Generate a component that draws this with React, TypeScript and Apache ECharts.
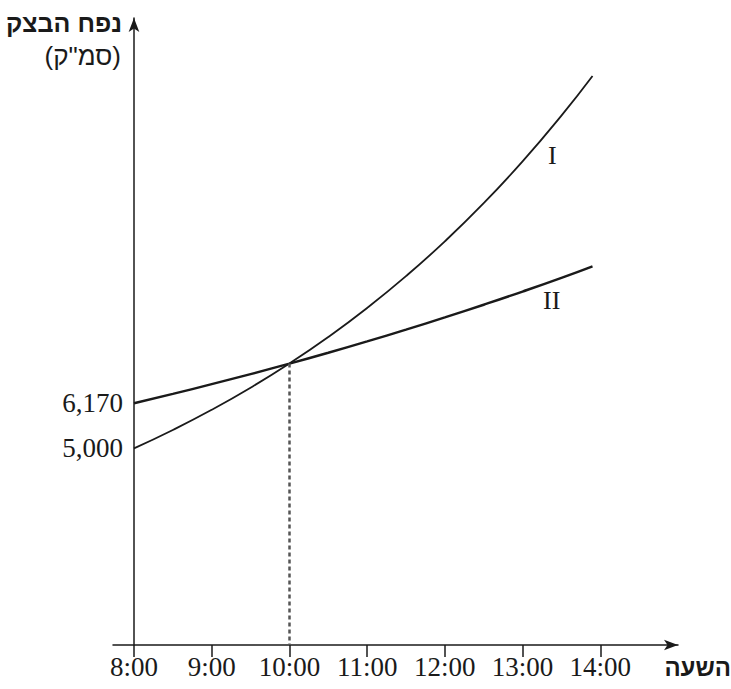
import React, { useEffect, useRef } from "react";
import * as echarts from "echarts";

// elapsed hours since 8:00
const hoursElapsed = [0, 0.5, 1, 1.5, 2, 2.5, 3, 3.5, 4, 4.5, 5, 5.5, 5.9];
const doughI = [5000, 5477, 6000, 6573, 7200, 7887, 8640, 9465, 10368, 11358, 12442, 13629, 14657];
const doughII = [6170, 6412, 6664, 6925, 7197, 7479, 7772, 8077, 8394, 8724, 9066, 9422, 9722];
const tickHours = [0, 1, 2, 3, 4, 5, 6];
const tickLabels = ["8:00", "9:00", "10:00", "11:00", "12:00", "13:00", "14:00"];
const yTickValues = [5000, 6170];
const meetHour = 2;
const meetValue = 7200;

const serif = "Liberation Serif, 'Times New Roman', serif";
const sans = "'Liberation Sans', Arial, 'DejaVu Sans', sans-serif";

export default function App() {
  const ref = useRef<HTMLDivElement>(null);
  useEffect(() => {
    document.body.style.margin = "0";
    if (!ref.current) return;
    const chart = echarts.init(ref.current, undefined, { renderer: "svg" });
    const axisColor = "#1a1a1a";
    chart.setOption({
      animation: false,
      backgroundColor: "#ffffff",
      grid: { left: 113, top: 18, width: 565, bottom: 44, containLabel: false },
      xAxis: {
        type: "value",
        min: -0.27,
        max: 7,
        splitLine: { show: false },
        axisLine: {
          show: true,
          onZero: false,
          symbol: ["none", "arrow"],
          symbolSize: [8, 14],
          lineStyle: { color: axisColor, width: 1.5 },
        },
        axisTick: {
          show: true,
          customValues: tickHours,
          length: 12,
          lineStyle: { color: axisColor, width: 1.5 },
        },
        axisLabel: {
          customValues: tickHours,
          margin: 8,
          fontFamily: serif,
          fontSize: 27,
          color: axisColor,
          formatter: (v: number) => tickLabels[tickHours.indexOf(Math.round(v))] ?? "",
        },
      },
      yAxis: {
        type: "value",
        min: -100,
        max: 16160,
        splitLine: { show: false },
        axisLine: {
          show: true,
          onZero: true,
          symbol: ["none", "arrow"],
          symbolSize: [8, 14],
          lineStyle: { color: axisColor, width: 1.5 },
        },
        axisTick: { show: false },
        axisLabel: {
          customValues: yTickValues,
          margin: -10,
          fontFamily: serif,
          fontSize: 27,
          color: axisColor,
          formatter: (v: number) => v.toLocaleString("en-US"),
        },
      },
      series: [
        {
          name: "I",
          type: "line",
          smooth: true,
          symbol: "none",
          lineStyle: { color: "#1a1a1a", width: 1.8 },
          data: hoursElapsed.map((h, i) => [h, doughI[i]]),
          markLine: {
            silent: true,
            symbol: "none",
            label: { show: false },
            lineStyle: { color: "#555555", width: 2.5, type: [4, 3] },
            data: [[{ coord: [meetHour, meetValue] }, { coord: [meetHour, -100] }]],
          },
        },
        {
          name: "II",
          type: "line",
          smooth: true,
          symbol: "none",
          lineStyle: { color: "#1a1a1a", width: 2.4 },
          data: hoursElapsed.map((h, i) => [h, doughII[i]]),
        },
      ],
      graphic: [
        {
          type: "text",
          right: 609,
          top: 10,
          style: { text: "נפח הבצק", font: `bold 25px ${sans}`, fill: "#1a1a1a" },
        },
        {
          type: "text",
          right: 610,
          top: 43,
          style: { text: "(סמ\"ק)", font: `26px ${sans}`, fill: "#1a1a1a" },
        },
        {
          type: "text",
          right: 0,
          top: 655,
          style: { text: "השעה", font: `bold 24px ${sans}`, fill: "#1a1a1a" },
        },
        {
          type: "text",
          left: 548,
          top: 142,
          style: { text: "I", font: `26px ${serif}`, fill: "#1a1a1a" },
        },
        {
          type: "text",
          left: 543,
          top: 287,
          style: { text: "II", font: `26px ${serif}`, fill: "#1a1a1a" },
        },
      ],
    });
    return () => chart.dispose();
  }, []);
  return <div ref={ref} style={{ width: 731, height: 689 }} />;
}
